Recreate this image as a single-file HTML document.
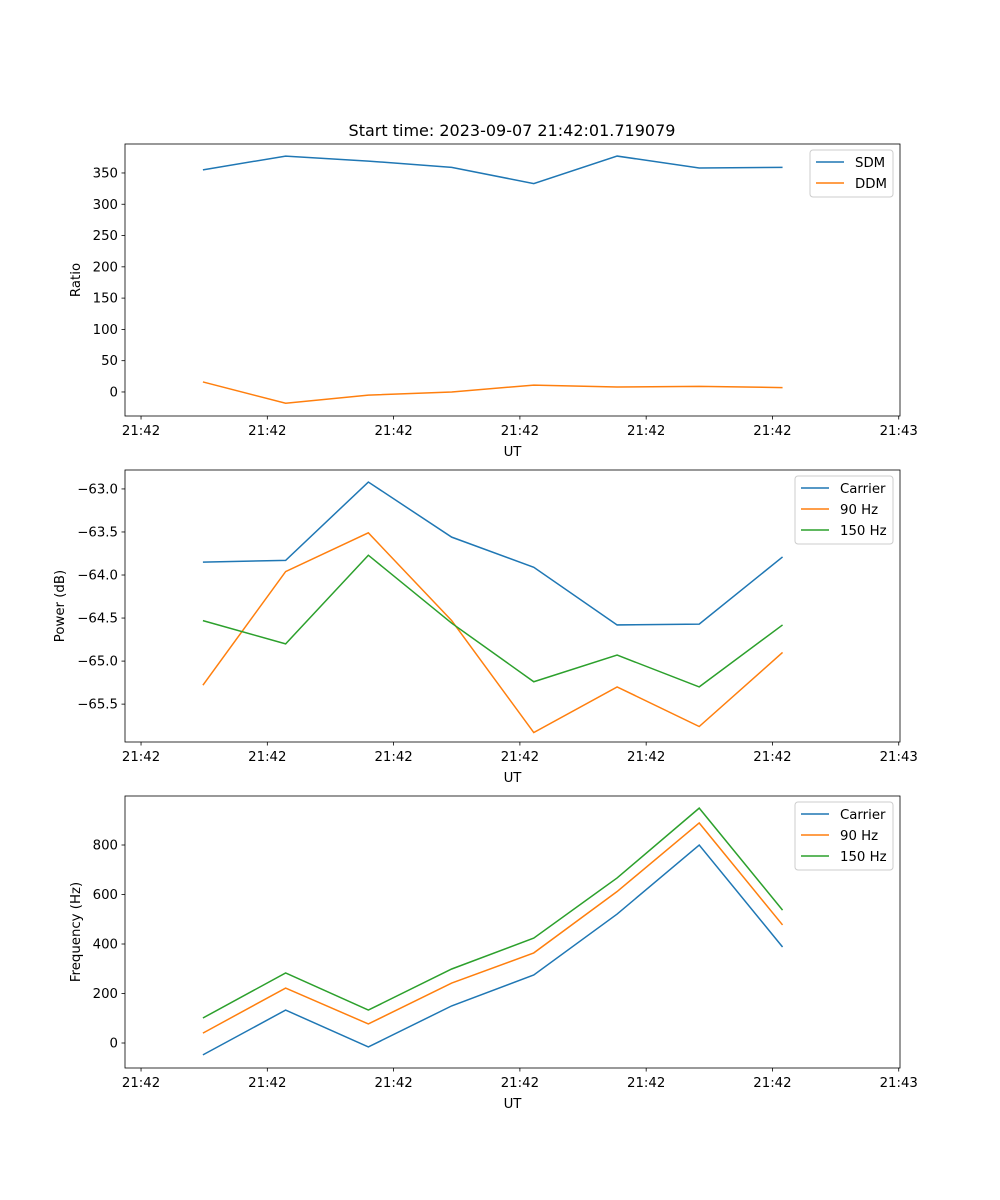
<!DOCTYPE html>
<html><head><meta charset="utf-8"><style>
body{margin:0;background:#fff;}
svg{display:block;font-family:"DejaVu Sans","Liberation Sans",sans-serif;}
</style></head><body>
<svg id="chart" width="1000" height="1200"></svg>
<script>
const xTickLabels=["21:42","21:42","21:42","21:42","21:42","21:42","21:43"];
const times=[0.49,1.145,1.80,2.46,3.11,3.77,4.42,5.08];
const sdm=[355,377,369,359,333,377,358,359];
const ddm=[16,-18,-5,0,11,8,9,7];
const pCarrier=[-63.85,-63.83,-62.92,-63.56,-63.91,-64.58,-64.57,-63.79];
const p90=[-65.28,-63.96,-63.51,-64.53,-65.83,-65.3,-65.76,-64.9];
const p150=[-64.53,-64.8,-63.77,-64.56,-65.24,-64.93,-65.3,-64.58];
const fCarrier=[-48,133,-16,150,275,521,800,388];
const f90=[40,222,77,242,364,612,889,477];
const f150=[101,283,133,299,424,667,949,537];
const ratioTicks=[0,50,100,150,200,250,300,350];
const powerTicks=[-65.5,-65.0,-64.5,-64.0,-63.5,-63.0];
const freqTicks=[0,200,400,600,800];

const NS="http://www.w3.org/2000/svg";
const svg=document.getElementById('chart');
function mk(tag,attrs,parent,text){const e=document.createElementNS(NS,tag);for(const k in attrs)e.setAttribute(k,attrs[k]);if(text!==undefined)e.textContent=text;(parent||svg).appendChild(e);return e;}
const L=125,R=900,tmin=-0.127,tmax=6.01;
const xs=t=>L+(t-tmin)/(tmax-tmin)*(R-L);
const colors=["#1f77b4","#ff7f0e","#2ca02c"];
function panel(name,top,bot,ymin,ymax,yTicks,fmt,ylabel,series,names,legend){
  const g=mk('g',{});
  
  
  const ys=v=>bot-(v-ymin)/(ymax-ymin)*(bot-top);
  yTicks.forEach(v=>{const y=ys(v);
    mk('line',{x1:L-3.5,x2:L,y1:y,y2:y,stroke:'#000','stroke-width':0.8},g);
    const t=mk('text',{x:L-7,y:y+4.5,'text-anchor':'end','font-size':13.3},g,fmt(v));
    
    
  });
  xTickLabels.forEach((lab,i)=>{const x=xs(i);
    mk('line',{x1:x,x2:x,y1:bot,y2:bot+3.5,stroke:'#000','stroke-width':0.8},g);
    const t=mk('text',{x:x,y:bot+19,'text-anchor':'middle','font-size':13.3},g,lab);
    
    
  });
  series.forEach((s,k)=>{
    const p=mk('polyline',{points:s.map((v,i)=>xs(times[i])+','+ys(v)).join(' '),fill:'none',stroke:colors[k],'stroke-width':1.5},g);
    
    
  });
  mk('rect',{x:L,y:top,width:R-L,height:bot-top,fill:'none',stroke:'#000','stroke-width':0.8},g);
  const xl=mk('text',{x:(L+R)/2,y:bot+40,'text-anchor':'middle','font-size':13.3},g,'UT');
  
  
  const yl=mk('text',{x:0,y:0,'text-anchor':'middle','font-size':13.3,transform:`translate(${ylabel[1]},${(top+bot)/2}) rotate(-90)`},g,ylabel[0]);
  
  
  const lg=mk('g',{},g);
  
  
  mk('rect',{x:legend[0],y:top+6,width:R-7-legend[0],height:names.length*21+5,fill:'#fff',stroke:'#ccc',rx:3},lg);
  names.forEach((n,k)=>{const y=top+18+k*21;
    mk('line',{x1:legend[0]+6,x2:legend[0]+34,y1:y,y2:y,stroke:colors[k],'stroke-width':1.5},lg);
    const t=mk('text',{x:legend[0]+45,y:y+5,'font-size':13.3},lg,n);
    
    
  });
}
const title=mk('text',{x:512,y:136,'text-anchor':'middle','font-size':16},svg,'Start time: 2023-09-07 21:42:01.719079');


panel('ratio',144,416,-38.4,396.3,ratioTicks,v=>String(v),['Ratio',80],[sdm,ddm],['SDM','DDM'],[810]);
panel('power',470,742,-65.94,-62.78,powerTicks,v=>(v<0?'\u2212':'')+Math.abs(v).toFixed(1),['Power (dB)',64],[pCarrier,p90,p150],['Carrier','90 Hz','150 Hz'],[795]);
panel('frequency',796,1068,-101,998,freqTicks,v=>String(v),['Frequency (Hz)',80],[fCarrier,f90,f150],['Carrier','90 Hz','150 Hz'],[795]);
</script>
</body></html>
